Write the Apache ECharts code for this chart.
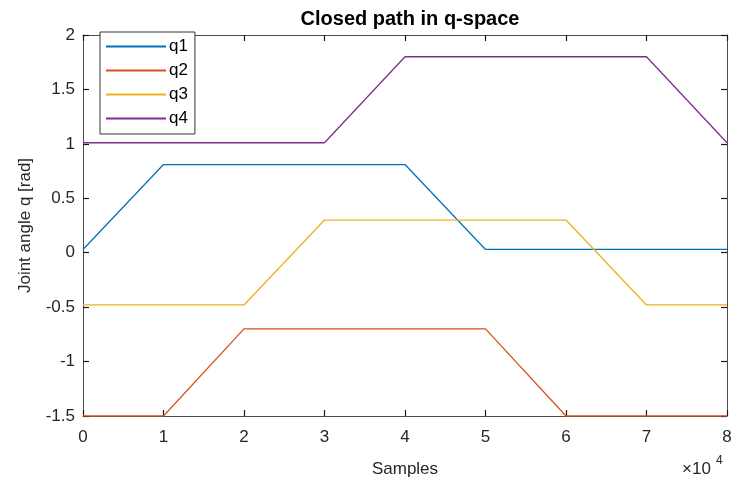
<!DOCTYPE html>
<html>
<head>
<meta charset="utf-8">
<script src="https://cdn.jsdelivr.net/npm/echarts@6/dist/echarts.min.js"></script>
<style>
  html, body { margin: 0; padding: 0; background: #fff; }
  #main { width: 731px; height: 479px; }
</style>
</head>
<body>
<div id="main"></div>
<script>
// breakpoints of the path, in samples
const samples = [0, 10000, 20000, 30000, 40000, 50000, 60000, 70000, 80000];
const q1 = [0.03, 0.81, 0.81, 0.81, 0.81, 0.03, 0.03, 0.03, 0.03];
const q2 = [-1.5, -1.5, -0.7, -0.7, -0.7, -0.7, -1.5, -1.5, -1.5];
const q3 = [-0.48, -0.48, -0.48, 0.3, 0.3, 0.3, 0.3, -0.48, -0.48];
const q4 = [1.01, 1.01, 1.01, 1.01, 1.8, 1.8, 1.8, 1.8, 1.01];
const names = ['q1', 'q2', 'q3', 'q4'];
const colors = ['#0072BD', '#D95319', '#EDB120', '#7E2F8E'];

const font = 'Liberation Sans, Arial, sans-serif';
const axisColor = '#4d4d4d';
const labelColor = '#262626';

function pairs(ys) {
  return samples.map((x, i) => [x, ys[i]]);
}

// MATLAB style: ticks point into the box
function tick() {
  return { show: true, inside: true, length: 6, lineStyle: { color: '#1a1a1a', width: 1.2 } };
}
function line() {
  return { show: true, onZero: false, lineStyle: { color: axisColor } };
}

const chart = echarts.init(document.getElementById('main'));

chart.setOption({
  animation: false,
  color: colors,
  textStyle: { fontFamily: font },
  title: {
    text: 'Closed path in q-space',
    left: 405, top: 4, textAlign: 'center',
    textStyle: { fontSize: 20, fontWeight: 'bold', color: '#000', fontFamily: font }
  },
  grid: { left: 83, top: 35, right: 4, bottom: 63, outerBoundsMode: 'none', containLabel: false },
  legend: {
    data: names,
    orient: 'vertical',
    left: 100, top: 32,
    padding: [6, 7, 7, 6],
    itemWidth: 60, itemHeight: 2, itemGap: 7,
    icon: 'rect',
    backgroundColor: '#fff',
    borderColor: '#333', borderWidth: 1,
    textStyle: { fontSize: 17, color: '#000', fontFamily: font, padding: [0, 0, 0, -2] }
  },
  xAxis: [{
    type: 'value', min: 0, max: 80000, interval: 10000,
    name: 'Samples', nameLocation: 'middle', nameGap: 45,
    nameTextStyle: { fontSize: 17, color: labelColor },
    axisLine: line(),
    axisTick: tick(),
    axisLabel: { fontSize: 17, color: labelColor, margin: 13, formatter: v => String(v / 10000) },
    splitLine: { show: false }
  }, {
    type: 'value', min: 0, max: 80000, interval: 10000, position: 'top',
    axisLine: line(),
    axisTick: tick(),
    axisLabel: { show: false },
    splitLine: { show: false }
  }],
  yAxis: [{
    type: 'value', min: -1.5, max: 2, interval: 0.5,
    name: 'Joint angle q [rad]', nameLocation: 'middle', nameGap: 49,
    nameTextStyle: { fontSize: 17, color: labelColor },
    axisLine: line(),
    axisTick: tick(),
    axisLabel: { fontSize: 17, color: labelColor, margin: 8 },
    splitLine: { show: false }
  }, {
    type: 'value', min: -1.5, max: 2, interval: 0.5, position: 'right',
    axisLine: line(),
    axisTick: tick(),
    axisLabel: { show: false },
    splitLine: { show: false }
  }],
  graphic: [{
    type: 'text', left: 682, top: 461,
    style: { text: '×10', fill: labelColor, font: '17px ' + font }
  }, {
    type: 'text', left: 716, top: 455,
    style: { text: '4', fill: labelColor, font: '12px ' + font }
  }],
  series: [q1, q2, q3, q4].map((ys, i) => ({
    name: names[i],
    type: 'line',
    data: pairs(ys),
    symbol: 'none',
    lineStyle: { width: 1.3, color: colors[i] },
    z: 2
  }))
});
</script>
</body>
</html>
